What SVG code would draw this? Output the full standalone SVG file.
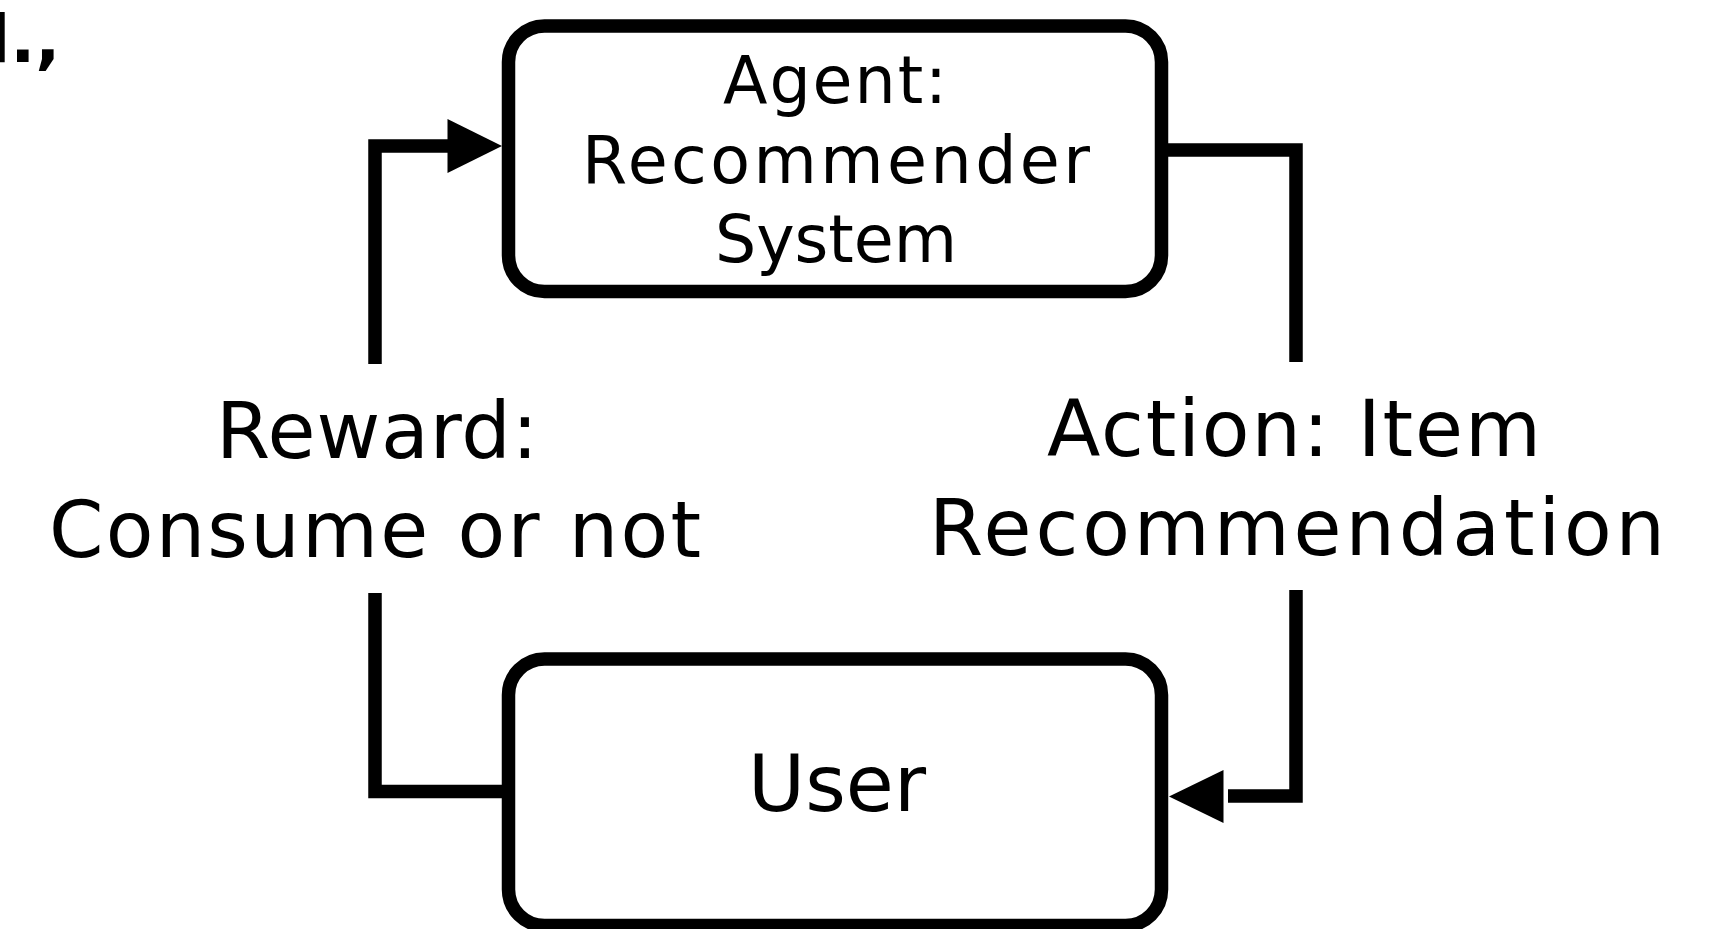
<svg xmlns="http://www.w3.org/2000/svg" width="1716" height="929" viewBox="0 0 1716 929">
<style>
.box{fill:#fff;stroke:#000;stroke-width:13.5}
.ln{fill:none;stroke:#000;stroke-width:13.5;stroke-linecap:butt;stroke-linejoin:miter}
.ah{fill:#000}
text{font-family:"DejaVu Sans",sans-serif;fill:#000;text-anchor:middle}
.big{font-size:78px}
.mid{font-size:65px}
.frag{font-weight:bold;font-size:66px;text-anchor:start}
</style>
<rect width="1716" height="929" fill="#fff"/>
<text class="frag" x="-37" y="62">d.,</text>
<g id="connectors">
<path class="ln" d="M375,364 V146 H452"/>
<polygon class="ah" points="447.5,119 502,146 447.5,173"/>
<path class="ln" d="M375,593 V791.5 H502"/>
<path class="ln" d="M1168,150 H1296 V362"/>
<path class="ln" d="M1296,590 V796 H1228"/>
<polygon class="ah" points="1223.5,770 1169,796.5 1223.5,823"/>
</g>
<g id="agent">
<rect class="box" x="508.5" y="26" width="653" height="265.5" rx="36"/>
<text class="mid" x="835" y="103" textLength="224" lengthAdjust="spacing">Agent:</text>
<text class="mid" x="836" y="183" textLength="508" lengthAdjust="spacing">Recommender</text>
<text class="mid" x="836" y="262" textLength="242" lengthAdjust="spacing">System</text>
</g>
<g id="user">
<rect class="box" x="508.5" y="659" width="653" height="266.5" rx="36"/>
<text class="big" x="837" y="811" textLength="178" lengthAdjust="spacing">User</text>
</g>
<g id="reward-label">
<text class="big" x="377" y="458" textLength="322" lengthAdjust="spacing">Reward:</text>
<text class="big" x="375" y="557" textLength="652" lengthAdjust="spacing">Consume or not</text>
</g>
<g id="action-label">
<text class="big" x="1294" y="456" textLength="494" lengthAdjust="spacing">Action: Item</text>
<text class="big" x="1297" y="555" textLength="736" lengthAdjust="spacing">Recommendation</text>
</g>
</svg>
